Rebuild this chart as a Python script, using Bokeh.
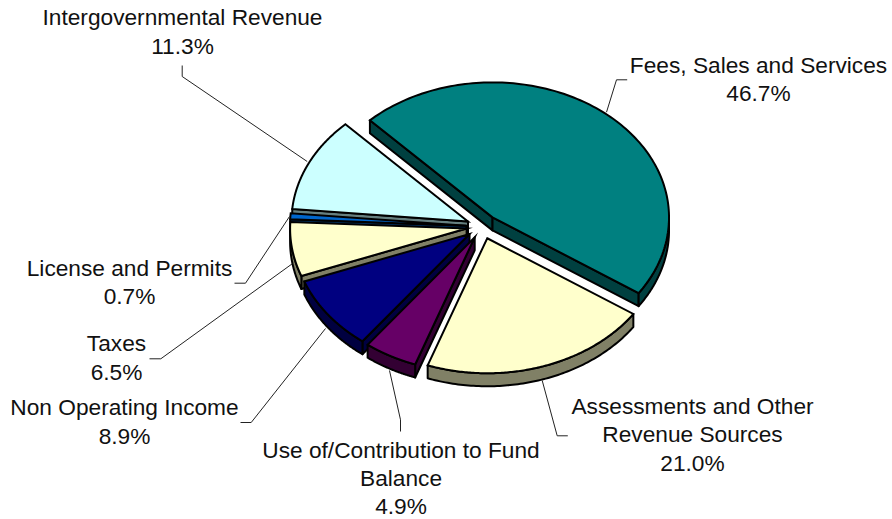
import numpy as np
from bokeh.plotting import figure
from bokeh.models import ColumnDataSource
from bokeh.core.properties import value
from bokeh.embed import file_html
from bokeh.resources import INLINE

# ---- data ----
names = ["Fees, Sales and Services", "Assessments and Other|Revenue Sources",
         "Use of/Contribution to Fund|Balance", "Non Operating Income", "Taxes",
         "License and Permits", "Intergovernmental Revenue"]
shares = [46.7, 21.0, 4.9, 8.9, 6.5, 0.7, 11.3]

# ---- styles ----
top_colors = ["#008080", "#FFFFCC", "#660066", "#000080", "#FFFFCC", "#0066CC", "#CCFFFF"]
side_colors = ["#004040", "#808066", "#330033", "#000040", "#808066", "#003366", "#668080"]

# ---- layout (page pixels) ----
CX, CY, RX, RY = 481.8, 226.2, 176.5, 135.0
EXPLODE, DEPTH, START = 0.09, 13.0, -44.0
FONT = 22.7
LINE_W = 2.0
TEXT_SHIFT = -8.3

label_x = [758, 692, 400.5, 124, 116, 129, 182]
label_baselines = [[72.7, 101], [414, 442, 470.7], [457.3, 485.7, 513.3], [415, 444],
                   [350.7, 380], [275.7, 304], [25, 53.3]]
leaders = [
    [(626.7, 79.3), (616, 79.3), (606, 111.7)],
    [(567.3, 435.3), (556.7, 435.3), (541.7, 380)],
    [(400, 431), (400, 419.3), (389, 370)],
    [(240, 422), (250.7, 422), (325, 328)],
    [(149, 358.3), (160.3, 358.3), (291.7, 263.3)],
    [(234, 282.7), (245, 282.7), (289, 216)],
    [(181.7, 65), (181.7, 76), (306.7, 161)],
]

p = figure(width=892, height=519, x_range=(0, 892), y_range=(519, 0),
           toolbar_location=None, output_backend="svg", min_border=0,
           outline_line_color=None)
p.axis.visible = False
p.grid.visible = False


def rim(ax, ay, deg):
    t = np.radians(deg)
    return ax + RX * np.sin(t), ay - RY * np.cos(t)


# geometry of the slices from the shares
total = sum(shares)
edges = START + np.concatenate([[0], np.cumsum(shares)]) / total * 360.0
slices = []
for i in range(len(shares)):
    a0, a1 = edges[i], edges[i + 1]
    mid = np.radians((a0 + a1) / 2)
    ax = CX + EXPLODE * RX * np.sin(mid)
    ay = CY - EXPLODE * RY * np.cos(mid)
    slices.append((ay, i, a0, a1, ax))

# painter's order: back to front
for ay, i, a0, a1, ax in sorted(slices):
    side = side_colors[i]
    # visible radial walls
    for ang, vis in ((a0, np.sin(np.radians(a0)) < 0), (a1, np.sin(np.radians(a1)) > 0)):
        if vis:
            rx_, ry_ = rim(ax, ay, ang)
            p.patch([ax, rx_, rx_, ax], [ay, ry_, ry_ + DEPTH, ay + DEPTH],
                    fill_color=side, line_color="black", line_width=LINE_W, line_join="round")
    # outer wall (front half only)
    lo, hi = max(a0, 90.0), min(a1, 270.0)
    if hi > lo:
        th = np.linspace(lo, hi, 90)
        xs, ys = rim(ax, ay, th)
        p.patch(list(xs) + list(xs[::-1]), list(ys) + list(ys[::-1] + DEPTH),
                fill_color=side, line_color="black", line_width=LINE_W, line_join="round")
    # top face
    th = np.linspace(a0, a1, 140)
    xs, ys = rim(ax, ay, th)
    p.patch([ax] + list(xs), [ay] + list(ys), fill_color=top_colors[i],
            line_color="black", line_width=LINE_W, line_join="miter")

# leader lines
for pts in leaders:
    p.line([q[0] for q in pts], [q[1] for q in pts], line_color="#222222", line_width=1)

# labels
tx, ty, tt = [], [], []
for i, name in enumerate(names):
    lines = name.split("|") + [f"{shares[i]:.1f}%"]
    for ln, by in zip(lines, label_baselines[i]):
        tx.append(label_x[i]); ty.append(by + TEXT_SHIFT); tt.append(ln)
p.text(x="x", y="y", text="t", source=ColumnDataSource(dict(x=tx, y=ty, t=tt)),
       text_font=value("Liberation Sans"), text_font_size=f"{FONT}px",
       text_align="center", text_baseline="alphabetic", text_color="#111111")

open("out.html", "w").write(file_html(p, INLINE))
